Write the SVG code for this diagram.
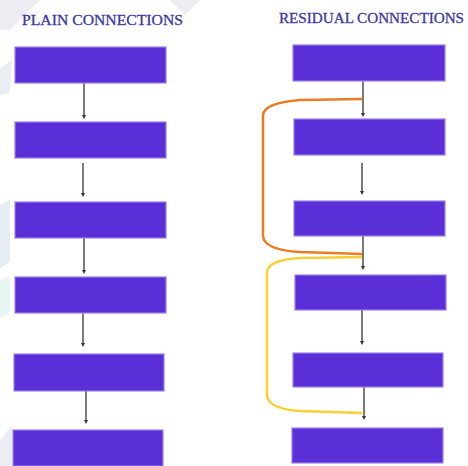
<svg xmlns="http://www.w3.org/2000/svg" width="468" height="466" viewBox="0 0 468 466">
<style>
.box{fill:#5a2fd8;stroke:#9b80e8;stroke-width:1.2}
.title{font-family:"Liberation Serif","Times New Roman",serif;font-size:14px;fill:#3b3aa2;stroke:#3b3aa2;stroke-width:0.3}
.arr{stroke:#333;stroke-width:1.3;fill:none;marker-end:url(#ah)}
.wm{fill:#e4e6ee}
</style>
<defs>
<marker id="ah" markerWidth="4" markerHeight="4" refX="2" refY="2" orient="auto" markerUnits="userSpaceOnUse">
<path d="M0,0 L4,2 L0,4 Z" fill="#333"/>
</marker>
</defs>
<rect width="468" height="466" fill="#ffffff"/>
<g id="watermark" opacity="0.7">
<polygon class="wm" points="0,0 40,0 10,30 0,30"/>
<polygon class="wm" points="170,0 200,0 185,15"/>
<polygon class="wm" points="0,68 12,60 10,92 0,96"/>
<polygon fill="#dde6f2" points="0,205 10,200 10,262 0,268"/>
<polygon fill="#dff3ee" points="0,280 10,276 10,312 0,318"/>
<polygon class="wm" points="0,466 0,440 12,425 12,466"/>
</g>
<text class="title" x="22" y="25" textLength="161" lengthAdjust="spacingAndGlyphs">PLAIN CONNECTIONS</text>
<text class="title" x="279" y="23" textLength="185" lengthAdjust="spacingAndGlyphs">RESIDUAL CONNECTIONS</text>
<g id="connectors">
<line class="arr" x1="84" y1="83" x2="84" y2="117"/>
<line class="arr" x1="83" y1="163" x2="83" y2="195"/>
<line class="arr" x1="84" y1="238" x2="84" y2="272"/>
<line class="arr" x1="83" y1="313" x2="83" y2="345"/>
<line class="arr" x1="86" y1="391" x2="86" y2="422"/>
<line class="arr" x1="363" y1="81" x2="363" y2="115"/>
<line class="arr" x1="362" y1="163" x2="362" y2="193"/>
<line class="arr" x1="363" y1="236" x2="363" y2="268"/>
<line class="arr" x1="362" y1="310" x2="362" y2="343"/>
<line class="arr" x1="364" y1="387" x2="364" y2="418"/>
<path d="M362,99 L300,100 Q264,103 263,115 L263,236 Q264,250 300,252 L362,254" fill="none" stroke="#f07a22" stroke-width="2.5"/>
<path d="M362,257 L300,258 Q268,260 267,272 L267,395 Q268,409 300,411 L362,413" fill="none" stroke="#f8cf34" stroke-width="2.5"/>
</g>
<g id="p1"><rect class="box" x="15" y="47" width="151" height="36"/></g>
<g id="p2"><rect class="box" x="15" y="122" width="151" height="36"/></g>
<g id="p3"><rect class="box" x="15" y="202" width="151" height="36"/></g>
<g id="p4"><rect class="box" x="15" y="277" width="151" height="36"/></g>
<g id="p5"><rect class="box" x="14" y="354" width="150" height="37"/></g>
<g id="p6"><rect class="box" x="13" y="430" width="150" height="36"/></g>
<g id="r1"><rect class="box" x="293" y="45" width="152" height="36"/></g>
<g id="r2"><rect class="box" x="294" y="119" width="151" height="36"/></g>
<g id="r3"><rect class="box" x="294" y="201" width="151" height="35"/></g>
<g id="r4"><rect class="box" x="295" y="275" width="151" height="35"/></g>
<g id="r5"><rect class="box" x="293" y="353" width="150" height="34"/></g>
<g id="r6"><rect class="box" x="292" y="428" width="151" height="35"/></g>
</svg>
